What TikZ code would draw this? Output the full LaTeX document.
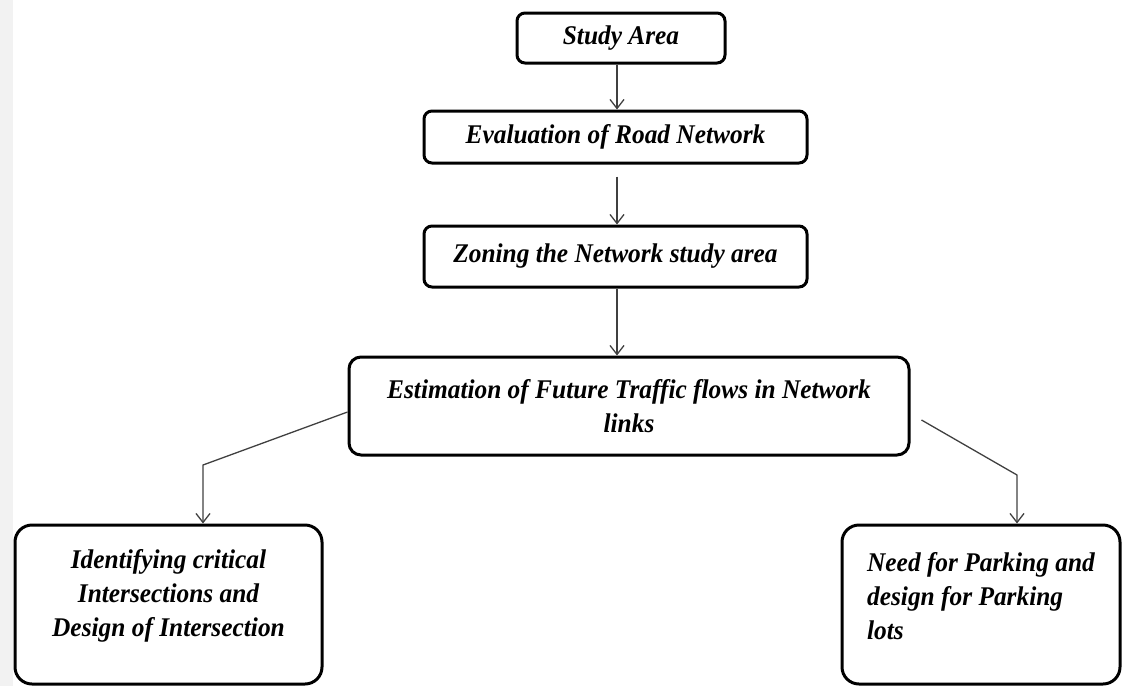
\documentclass[tikz,border=0pt]{standalone}
\usepackage{fontspec}
\setmainfont{Liberation Serif}[FakeStretch=0.94]
\usetikzlibrary{arrows.meta}
\begin{document}
\begin{tikzpicture}[x=1pt,y=-1pt,
  boxstyle/.style={draw=black, line width=3pt, rounded corners=#1, inner sep=0pt,
    font=\fontsize{27}{34}\selectfont\bfseries\itshape},
  boxstyle/.default=8pt,
  txt/.style={inner sep=0pt, font=\fontsize{27}{34}\selectfont\bfseries\itshape},
  arr/.style={draw=black!75, line width=1.3pt, -{Straight Barb[length=9pt,width=14pt]}},
]
\useasboundingbox (0,0) rectangle (1122,686);
\fill[black!5] (0,0) rectangle (13,686);

\node[boxstyle, minimum width=208pt, minimum height=50pt] (study) at (621,38) {Study Area};
\node[boxstyle, minimum width=383pt, minimum height=52pt] (eval) at (615.5,137) {Evaluation of Road Network};
\node[boxstyle, minimum width=383pt, minimum height=61pt] (zone) at (615.5,256.5) {Zoning the Network study area};
\node[boxstyle=12pt, minimum width=560pt, minimum height=98pt, align=center] (est) at (629,406)
  {Estimation of Future Traffic flows in Network\\links};
\node[boxstyle=17pt, minimum width=307pt, minimum height=159pt] (ident) at (168.5,604.5) {};
\node[txt, align=center] (identtxt) at (168.5,596)
  {Identifying critical\\Intersections and\\Design of Intersection};
\node[boxstyle=17pt, minimum width=278pt, minimum height=159pt] (park) at (981,604.5) {};
\node[txt, align=left] (parktxt) at (981,596)
  {Need for Parking and\\design for Parking\\lots};

\coordinate (ax) at (617,0);
\draw[arr] (study.south -| ax) -- (eval.north -| ax);
\draw[arr, shorten <=12pt] (eval.south -| ax) -- (zone.north -| ax);
\draw[arr] (zone.south -| ax) -- (est.north -| ax);

\coordinate (lc) at (203,465);
\draw[arr] ([yshift=-6pt]est.west) -- (lc) -- (ident.north -| lc);
\coordinate (rc) at (1017,475);
\draw[arr] ([xshift=11pt,yshift=-14pt]est.east) -- (rc) -- (park.north -| rc);
\end{tikzpicture}
\end{document}
